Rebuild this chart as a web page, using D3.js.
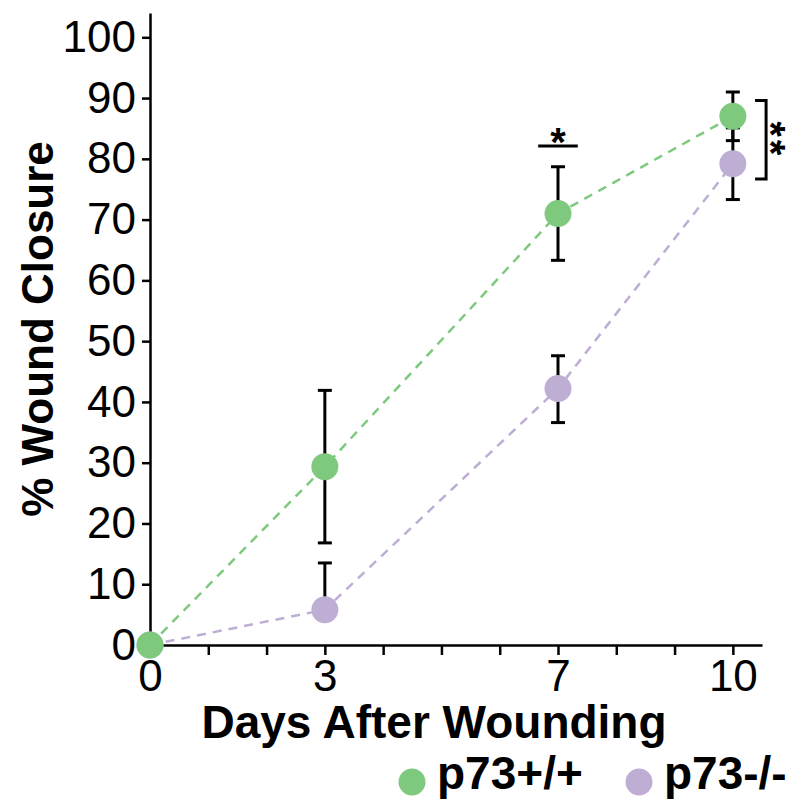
<!DOCTYPE html>
<html>
<head>
<meta charset="utf-8">
<script src="https://cdn.jsdelivr.net/npm/d3@7"></script>
<style>
  body { margin: 0; background: #fff; }
  text { font-family: "Liberation Sans", Arial, sans-serif; fill: #000; }
</style>
</head>
<body>
<div id="chart"></div>
<script>
// data
var days = [0, 3, 7, 10];
var wtMean = [0, 29.35, 71.0, 87.0];
var wtLow  = [0, 16.8, 63.3, 83.0];
var wtHigh = [0, 41.9, 78.7, 91.0];
var koMean = [0, 5.8, 42.2, 79.2];
var koLow  = [0, 5.8, 36.6, 73.3];
var koHigh = [0, 13.5, 47.6, 85.1];
var yTicks = [0, 10, 20, 30, 40, 50, 60, 70, 80, 90, 100];
var xTicks = [0, 1, 2, 3, 4, 5, 6, 7, 8, 9, 10];
var xLabels = [0, 3, 7, 10];
var seriesNames = ["p73+/+", "p73-/-"];
var colors = ["#7fc97f", "#beaed4"];

var W = 794, H = 806;
var svg = d3.select("#chart").append("svg")
    .attr("width", W)
    .attr("height", H);

//scales
var x = d3.scaleLinear().domain([0, 10.5]).range([150, 762]);
var y = d3.scaleLinear().domain([0, 104]).range([645, 13]);

//y axis
var yAxis = svg.append("g")
    .attr("transform", "translate(" + x(0) + ",0)")
    .call(d3.axisLeft(y).tickValues(yTicks).tickSize(8).tickSizeOuter(0).tickPadding(6));
yAxis.select(".domain").attr("stroke-width", 2.5);
yAxis.selectAll(".tick line").attr("stroke-width", 2.5);
yAxis.selectAll(".tick text")
    .style("font-size", "44px")
    .attr("fill", "#000");

//x axis
var xAxis = svg.append("g")
    .attr("transform", "translate(0," + y(0) + ")")
    .call(d3.axisBottom(x).tickValues(xTicks).tickSize(10).tickSizeOuter(0)
        .tickFormat(function(d){ return xLabels.indexOf(d) >= 0 ? d : ""; })
        .tickPadding(5));
xAxis.select(".domain").attr("stroke-width", 2.5);
xAxis.selectAll(".tick line").attr("stroke-width", 2.5);
xAxis.selectAll(".tick text")
    .style("font-size", "44px")
    .attr("fill", "#000");

//axis titles
svg.append("text")
    .attr("transform", "translate(53," + ((y(0) + y(104)) / 2) + ") rotate(-90)")
    .attr("text-anchor", "middle")
    .style("font-size", "44px")
    .style("font-weight", "bold")
    .text("% Wound Closure");

svg.append("text")
    .attr("x", 434)
    .attr("y", 738)
    .attr("text-anchor", "middle")
    .style("font-size", "46px")
    .style("font-weight", "bold")
    .text("Days After Wounding");

var series = [
  {mean: koMean, low: koLow, high: koHigh, color: colors[1]},
  {mean: wtMean, low: wtLow, high: wtHigh, color: colors[0]}
];

var line = d3.line()
    .x(function(d, i){ return x(days[i]); })
    .y(function(d){ return y(d); });

//dashed lines
series.forEach(function(s){
  svg.append("path")
      .datum(s.mean)
      .attr("d", line)
      .attr("fill", "none")
      .attr("stroke", s.color)
      .attr("stroke-width", 2.5)
      .attr("stroke-dasharray", "9,7");
});

//error bars
function bar(g, xv, from, to){
  g.append("line").attr("x1", x(xv)).attr("x2", x(xv))
    .attr("y1", y(from)).attr("y2", y(to))
    .attr("stroke", "#000").attr("stroke-width", 3);
  g.append("line").attr("x1", x(xv) - 7).attr("x2", x(xv) + 7)
    .attr("y1", y(to)).attr("y2", y(to))
    .attr("stroke", "#000").attr("stroke-width", 3);
}
series.forEach(function(s){
  var g = svg.append("g");
  days.forEach(function(d, i){
    if (s.high[i] > s.mean[i]) bar(g, d, s.mean[i], s.high[i]);
    if (s.low[i] < s.mean[i]) bar(g, d, s.mean[i], s.low[i]);
  });
});

//points
series.forEach(function(s){
  svg.append("g").selectAll("circle")
      .data(s.mean)
      .enter()
      .append("circle")
        .attr("cx", function(d, i){ return x(days[i]); })
        .attr("cy", function(d){ return y(d); })
        .attr("r", 13.5)
        .style("fill", s.color);
});

//significance at day 7
svg.append("line")
    .attr("x1", x(6.66)).attr("x2", x(7.34))
    .attr("y1", y(82.1)).attr("y2", y(82.1))
    .attr("stroke", "#000").attr("stroke-width", 3);
svg.append("text")
    .attr("x", x(7)).attr("y", y(82.1) + 10)
    .attr("text-anchor", "middle")
    .style("font-size", "40px")
    .style("font-weight", "bold")
    .text("*");

//bracket at day 10
var bx = x(10.57), bTop = y(89.6), bBot = y(76.7);
svg.append("path")
    .attr("d", "M" + (bx - 11) + "," + bTop + "H" + bx + "V" + bBot + "H" + (bx - 11))
    .attr("fill", "none")
    .attr("stroke", "#000").attr("stroke-width", 3);
svg.append("text")
    .attr("transform", "translate(" + (bx - 9) + "," + ((bTop + bBot) / 2) + ") rotate(90)")
    .attr("text-anchor", "middle")
    .style("font-size", "40px")
    .style("font-weight", "bold")
    .style("letter-spacing", "3px")
    .text("**");

//legend
var leg = [{x: 412, name: seriesNames[0], color: colors[0]},
           {x: 639, name: seriesNames[1], color: colors[1]}];
leg.forEach(function(l){
  svg.append("circle")
      .attr("cx", l.x).attr("cy", 782).attr("r", 13.5)
      .style("fill", l.color);
  svg.append("text")
      .attr("x", l.x + 25).attr("y", 789)
      .style("font-size", "46px")
      .style("font-weight", "bold")
      .text(l.name);
});
</script>
</body>
</html>
